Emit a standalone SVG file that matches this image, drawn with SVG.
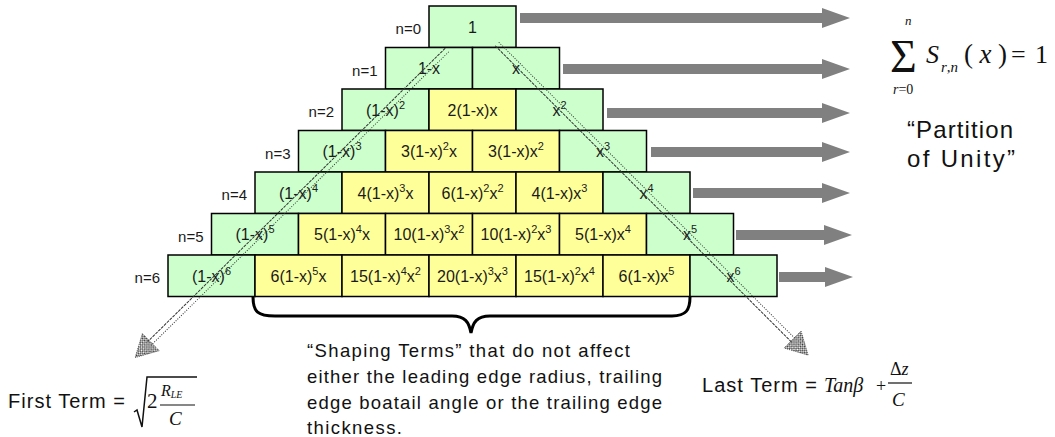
<svg xmlns="http://www.w3.org/2000/svg" width="1055" height="437" viewBox="0 0 1055 437">
<style>
.g{fill:#ccffcc;stroke:#000;stroke-width:1.5}
.y{fill:#ffff99;stroke:#000;stroke-width:1.5}
.t{font-family:"Liberation Sans",Arial,sans-serif;font-size:16px;fill:#1a1a1a;text-anchor:middle}
.s{font-size:11px}
.lbl{font-family:"Liberation Sans",Arial,sans-serif;font-size:15px;fill:#1a1a1a;text-anchor:end}
.arr{fill:#808080}
.txt{font-family:"Liberation Sans",Arial,sans-serif;fill:#111}
.m{font-family:"Liberation Serif","Times New Roman",serif;fill:#111}
.i{font-style:italic}
.sh1{fill:none;stroke:#333;stroke-width:1;stroke-dasharray:1 1.5}
.sh2{fill:none;stroke:#333;stroke-width:1;stroke-dasharray:3 1}
.hd{fill:url(#dots);stroke:#444;stroke-width:0.8;stroke-dasharray:1 1}
</style>
<defs>
<pattern id="dots" width="3" height="3" patternUnits="userSpaceOnUse">
<rect x="0" y="0" width="1.5" height="1.5" fill="#333"/>
<rect x="1.5" y="1.5" width="1.5" height="1.5" fill="#333"/>
</pattern>
</defs>

<g id="labels">
<text class="lbl" x="421" y="34.25">n=0</text>
<text class="lbl" x="377.5" y="75.75">n=1</text>
<text class="lbl" x="334" y="117.25">n=2</text>
<text class="lbl" x="290.5" y="158.75">n=3</text>
<text class="lbl" x="247" y="200.25">n=4</text>
<text class="lbl" x="203.5" y="241.75">n=5</text>
<text class="lbl" x="160" y="283.25">n=6</text>
</g>

<!-- n=0 -->
<g id="c00"><rect class="g" x="429" y="6" width="87" height="41.5"/><text class="t" x="472.5" y="32.75">1</text></g>
<!-- n=1 -->
<g id="c10"><rect class="g" x="385.5" y="47.5" width="87" height="41.5"/><text class="t" x="429" y="74.25">1-x</text></g>
<g id="c11"><rect class="g" x="472.5" y="47.5" width="87" height="41.5"/><text class="t" x="516" y="74.25">x</text></g>
<!-- n=2 -->
<g id="c20"><rect class="g" x="342" y="89" width="87" height="41.5"/><text class="t" x="385.5" y="115.75">(1-x)<tspan class="s" dy="-7">2</tspan></text></g>
<g id="c21"><rect class="y" x="429" y="89" width="87" height="41.5"/><text class="t" x="472.5" y="115.75">2(1-x)x</text></g>
<g id="c22"><rect class="g" x="516" y="89" width="87" height="41.5"/><text class="t" x="559.5" y="115.75">x<tspan class="s" dy="-7">2</tspan></text></g>
<!-- n=3 -->
<g id="c30"><rect class="g" x="298.5" y="130.5" width="87" height="41.5"/><text class="t" x="342" y="157.25">(1-x)<tspan class="s" dy="-7">3</tspan></text></g>
<g id="c31"><rect class="y" x="385.5" y="130.5" width="87" height="41.5"/><text class="t" x="429" y="157.25">3(1-x)<tspan class="s" dy="-7">2</tspan><tspan dy="7">x</tspan></text></g>
<g id="c32"><rect class="y" x="472.5" y="130.5" width="87" height="41.5"/><text class="t" x="516" y="157.25">3(1-x)x<tspan class="s" dy="-7">2</tspan></text></g>
<g id="c33"><rect class="g" x="559.5" y="130.5" width="87" height="41.5"/><text class="t" x="603" y="157.25">x<tspan class="s" dy="-7">3</tspan></text></g>
<!-- n=4 -->
<g id="c40"><rect class="g" x="255" y="172" width="87" height="41.5"/><text class="t" x="298.5" y="198.75">(1-x)<tspan class="s" dy="-7">4</tspan></text></g>
<g id="c41"><rect class="y" x="342" y="172" width="87" height="41.5"/><text class="t" x="385.5" y="198.75">4(1-x)<tspan class="s" dy="-7">3</tspan><tspan dy="7">x</tspan></text></g>
<g id="c42"><rect class="y" x="429" y="172" width="87" height="41.5"/><text class="t" x="472.5" y="198.75">6(1-x)<tspan class="s" dy="-7">2</tspan><tspan dy="7">x</tspan><tspan class="s" dy="-7">2</tspan></text></g>
<g id="c43"><rect class="y" x="516" y="172" width="87" height="41.5"/><text class="t" x="559.5" y="198.75">4(1-x)x<tspan class="s" dy="-7">3</tspan></text></g>
<g id="c44"><rect class="g" x="603" y="172" width="87" height="41.5"/><text class="t" x="646.5" y="198.75">x<tspan class="s" dy="-7">4</tspan></text></g>
<!-- n=5 -->
<g id="c50"><rect class="g" x="211.5" y="213.5" width="87" height="41.5"/><text class="t" x="255" y="240.25">(1-x)<tspan class="s" dy="-7">5</tspan></text></g>
<g id="c51"><rect class="y" x="298.5" y="213.5" width="87" height="41.5"/><text class="t" x="342" y="240.25">5(1-x)<tspan class="s" dy="-7">4</tspan><tspan dy="7">x</tspan></text></g>
<g id="c52"><rect class="y" x="385.5" y="213.5" width="87" height="41.5"/><text class="t" x="429" y="240.25">10(1-x)<tspan class="s" dy="-7">3</tspan><tspan dy="7">x</tspan><tspan class="s" dy="-7">2</tspan></text></g>
<g id="c53"><rect class="y" x="472.5" y="213.5" width="87" height="41.5"/><text class="t" x="516" y="240.25">10(1-x)<tspan class="s" dy="-7">2</tspan><tspan dy="7">x</tspan><tspan class="s" dy="-7">3</tspan></text></g>
<g id="c54"><rect class="y" x="559.5" y="213.5" width="87" height="41.5"/><text class="t" x="603" y="240.25">5(1-x)x<tspan class="s" dy="-7">4</tspan></text></g>
<g id="c55"><rect class="g" x="646.5" y="213.5" width="87" height="41.5"/><text class="t" x="690" y="240.25">x<tspan class="s" dy="-7">5</tspan></text></g>
<!-- n=6 -->
<g id="c60"><rect class="g" x="168" y="255" width="87" height="41.5"/><text class="t" x="211.5" y="281.75">(1-x)<tspan class="s" dy="-7">6</tspan></text></g>
<g id="c61"><rect class="y" x="255" y="255" width="87" height="41.5"/><text class="t" x="298.5" y="281.75">6(1-x)<tspan class="s" dy="-7">5</tspan><tspan dy="7">x</tspan></text></g>
<g id="c62"><rect class="y" x="342" y="255" width="87" height="41.5"/><text class="t" x="385.5" y="281.75">15(1-x)<tspan class="s" dy="-7">4</tspan><tspan dy="7">x</tspan><tspan class="s" dy="-7">2</tspan></text></g>
<g id="c63"><rect class="y" x="429" y="255" width="87" height="41.5"/><text class="t" x="472.5" y="281.75">20(1-x)<tspan class="s" dy="-7">3</tspan><tspan dy="7">x</tspan><tspan class="s" dy="-7">3</tspan></text></g>
<g id="c64"><rect class="y" x="516" y="255" width="87" height="41.5"/><text class="t" x="559.5" y="281.75">15(1-x)<tspan class="s" dy="-7">2</tspan><tspan dy="7">x</tspan><tspan class="s" dy="-7">4</tspan></text></g>
<g id="c65"><rect class="y" x="603" y="255" width="87" height="41.5"/><text class="t" x="646.5" y="281.75">6(1-x)x<tspan class="s" dy="-7">5</tspan></text></g>
<g id="c66"><rect class="g" x="690" y="255" width="87" height="41.5"/><text class="t" x="733.5" y="281.75">x<tspan class="s" dy="-7">6</tspan></text></g>

<g id="connectors">
<polygon class="arr" points="520,13 822,13 822,8 850,18 822,28 822,23 520,23"/>
<polygon class="arr" points="563,64 822,64 822,59 850,69 822,79 822,74 563,74"/>
<polygon class="arr" points="607,108 822,108 822,103 850,113 822,123 822,118 607,118"/>
<polygon class="arr" points="651,147 822,147 822,142 850,152 822,162 822,157 651,157"/>
<polygon class="arr" points="693,188 822,188 822,183 850,193 822,203 822,198 693,198"/>
<polygon class="arr" points="736,230 824,230 824,225 852,235 824,245 824,240 736,240"/>
<polygon class="arr" points="779,272 825,272 825,267 853,277 825,287 825,282 779,282"/>
<g transform="translate(447,50) rotate(135.4)">
<line class="sh1" x1="0" y1="-2.5" x2="418" y2="-2.5"/>
<line class="sh2" x1="0" y1="2.5" x2="418" y2="2.5"/>
<polygon class="hd" points="416,-12 438,0 416,12"/>
</g>
<g transform="translate(497,44) rotate(45)">
<line class="sh1" x1="0" y1="-2.5" x2="420" y2="-2.5"/>
<line class="sh2" x1="0" y1="2.5" x2="420" y2="2.5"/>
<polygon class="hd" points="418,-12 440,0 418,12"/>
</g>
<path d="M253,297 C253,312 258,316 275,316 L452,316 C465,316 469,322 471,333 C473,322 477,316 490,316 L672,316 C686,316 690,310 690,297" fill="none" stroke="#000" stroke-width="3"/>
</g>

<g id="sum">
<text class="m" x="890" y="72" font-size="46">Σ</text>
<text class="m i" x="905" y="25" font-size="13">n</text>
<text class="m" x="893" y="94" font-size="14"><tspan class="i">r</tspan>=0</text>
<text class="m i" x="926" y="63" font-size="26">S</text>
<text class="m i" x="941" y="72" font-size="15">r<tspan font-style="normal">,</tspan>n</text>
<text class="m" x="964" y="63" font-size="27" textLength="43" lengthAdjust="spacing">(<tspan class="i">x</tspan>)</text>
<text class="m" x="1011" y="63" font-size="26">=</text>
<text class="m" x="1035" y="63" font-size="26">1</text>
</g>
<g id="partition">
<text class="txt" x="907" y="138" font-size="24" textLength="106" lengthAdjust="spacing">“Partition</text>
<text class="txt" x="907" y="167" font-size="24" textLength="108" lengthAdjust="spacing">of Unity”</text>
</g>

<g id="shaping">
<text class="txt" x="307" y="357" font-size="18.5" textLength="323" lengthAdjust="spacing">“Shaping Terms” that do not affect</text>
<text class="txt" x="307" y="383" font-size="18.5" textLength="355" lengthAdjust="spacing">either the leading edge radius, trailing</text>
<text class="txt" x="307" y="409" font-size="18.5" textLength="355" lengthAdjust="spacing">edge boatail angle or the trailing edge</text>
<text class="txt" x="307" y="434" font-size="18.5" textLength="95" lengthAdjust="spacing">thickness.</text>
</g>

<g id="first-term">
<text class="txt" x="8" y="408" font-size="20" textLength="117" lengthAdjust="spacing">First Term =</text>
<path d="M134,412 L137,410 L142,427 L147,377 L197,377" fill="none" stroke="#111" stroke-width="1.5"/>
<text class="m" x="147" y="408" font-size="21">2</text>
<text class="m i" x="161" y="396" font-size="16">R<tspan font-size="10" dy="2">LE</tspan></text>
<line x1="160" y1="405" x2="195" y2="405" stroke="#111" stroke-width="1.2"/>
<text class="m i" x="169" y="425" font-size="19">C</text>
</g>

<g id="last-term">
<text class="txt" x="702" y="392" font-size="20" textLength="115" lengthAdjust="spacing">Last Term =</text>
<text class="m i" x="824" y="392" font-size="20">Tanβ</text>
<text class="m" x="876" y="392" font-size="18">+</text>
<text class="m" x="890" y="375" font-size="18">Δ<tspan class="i">z</tspan></text>
<line x1="888" y1="383" x2="912" y2="383" stroke="#111" stroke-width="1.2"/>
<text class="m i" x="892" y="406" font-size="19">C</text>
</g>
</svg>
